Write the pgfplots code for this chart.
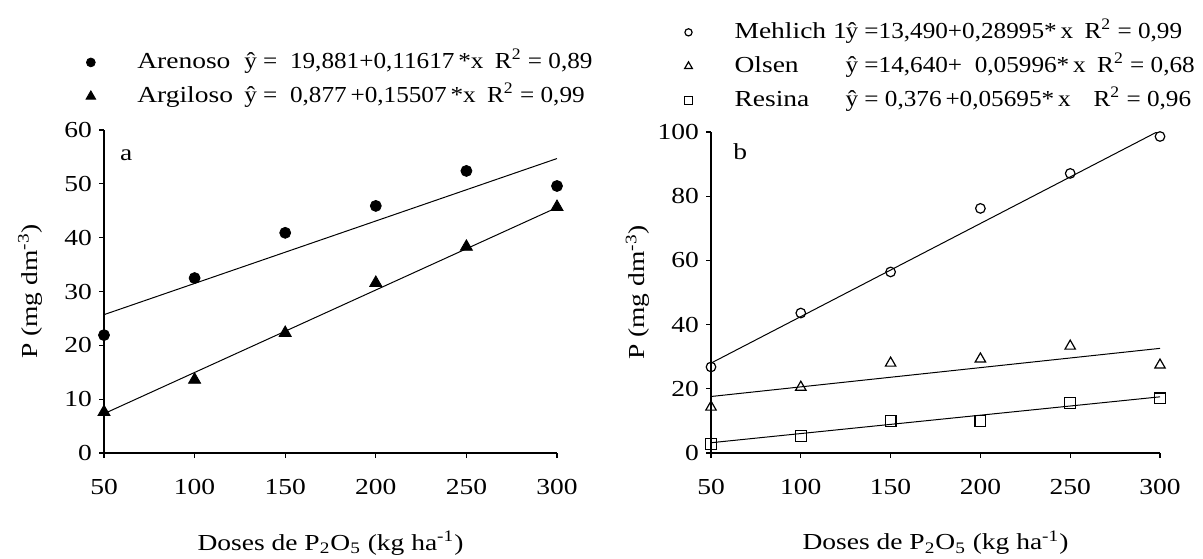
\documentclass[border=0pt]{standalone}
\usepackage{fontspec}
\setmainfont{Liberation Serif}[FakeStretch=1.2]
\newfontfamily\eqf{Liberation Serif}[FakeStretch=1.1]
\usepackage{pgfplots}
\pgfplotsset{compat=1.18}
\newcommand{\fs}{\fontsize{11.5}{13.8}\selectfont}
\pgfplotsset{
 myax/.style={
  scale only axis,
  axis x line=bottom, axis y line=left,
  axis line style={-, line width=0.7bp},
  tick align=outside, major tick length=2.5bp,
  tick style={line width=0.6bp, black},
  xmin=50, xmax=300, xtick={50,100,...,300},
  /pgf/number format/assume math mode=true,
  font=\fs,
  tick label style={font=\fs},
  xticklabel style={yshift=-7bp},
  label style={font=\fs},
  xlabel={Doses de P\textsubscript{2}O\textsubscript{5} (kg ha\textsuperscript{-1})},
  ylabel={P (mg dm\textsuperscript{-3})},
  xlabel style={at={(axis description cs:0.5,-0.279)}, anchor=center},
  ylabel style={at={(axis description cs:-0.163,0.5)}, anchor=center, rotate=0},
  legend style={draw=none, fill=none, inner sep=0pt, font=\fs,
    cells={anchor=west}, nodes={inner sep=0pt, text height=8.5bp, text depth=2.5bp},
    row sep=6bp},
  legend image code/.code={\draw[#1] plot coordinates {(0bp,0bp)};},
 }
}
\begin{document}
\begin{tikzpicture}[font=\fs]
\path[use as bounding box] (0,0) rectangle (601.5bp,-279.5bp);
% left panel
\begin{axis}[myax,
  at={(52bp,-226.5bp)}, anchor=south west,
  width=226.5bp, height=161.5bp,
  ymin=0, ymax=60, ytick={0,10,...,60},
  legend style={at={(axis description cs:-0.0406,1.2445)}, anchor=north west, column sep=20.8bp},
  legend image post style={/tikz/every mark/.append style={scale=0.8}},
]
\addplot[only marks, mark=*, mark size=2.75bp, black] coordinates {
(50,21.9) (100,32.5) (150,40.9) (200,45.9) (250,52.4) (300,49.6)};
\addlegendentry{\makebox[53.5bp][l]{Arenoso}{\eqf ŷ = \ 19,881+0,11617\,*x\enspace R\textsuperscript{2} = 0,89}}
\addplot[only marks, mark=triangle*, mark size=3.5bp, black] coordinates {
(50,7.6) (100,13.6) (150,22.3) (200,31.6) (250,38.3) (300,45.7)};
\addlegendentry{\makebox[53.5bp][l]{Argiloso}{\eqf ŷ = \ 0,877\,+0,15507\,*x\enspace R\textsuperscript{2} = 0,99}}
\addplot[black, line width=0.5bp, forget plot] coordinates {(50,25.7) (300,54.7)};
\addplot[black, line width=0.5bp, forget plot] coordinates {(50,7.3) (300,45.6)};
\node[anchor=center] at (axis description cs:0.049,0.923) {a};
\end{axis}
% right panel
\begin{axis}[myax,
  at={(355.5bp,-226.5bp)}, anchor=south west,
  width=224.5bp, height=160.5bp,
  ymin=0, ymax=100, ytick={0,20,...,100},
  legend style={at={(axis description cs:-0.060,1.346)}, anchor=north west, column sep=21bp},
  legend image post style={/tikz/every mark/.append style={scale=0.75}},
]
\addplot[only marks, mark=o, mark size=2.4bp, black, mark options={line width=0.6bp, fill=white}] coordinates {
(50,26.8) (100,43.6) (150,56.4) (200,76.2) (250,87.1) (300,98.6)};
\addlegendentry{\makebox[55.5bp][l]{Mehlich 1}{\eqf ŷ =13,490+0,28995*\,x\enspace R\textsuperscript{2} = 0,99}}
\addplot[only marks, mark=triangle, mark size=3bp, black, mark options={line width=0.6bp, fill=white}] coordinates {
(50,14.3) (100,20.5) (150,28.0) (200,29.3) (250,33.3) (300,27.4)};
\addlegendentry{\makebox[55.5bp][l]{Olsen}{\eqf ŷ =14,640+ \ 0,05996*\,x\enspace R\textsuperscript{2} = 0,68}}
\addplot[only marks, mark=square, mark size=2.7bp, black, mark options={line width=0.6bp, fill=white}] coordinates {
(50,2.8) (100,5.3) (150,10.0) (200,10.0) (250,15.6) (300,17.0)};
\addlegendentry{\makebox[55.5bp][l]{Resina}{\eqf ŷ = 0,376\,+0,05695*\,x\quad R\textsuperscript{2} = 0,96}}
\addplot[black, line width=0.5bp, forget plot] coordinates {(50,28.0) (300,100.5)};
\addplot[black, line width=0.5bp, forget plot] coordinates {(50,17.6) (300,32.6)};
\addplot[black, line width=0.5bp, forget plot] coordinates {(50,3.2) (300,17.5)};
\node[anchor=center] at (axis description cs:0.065,0.938) {b};
\end{axis}
\end{tikzpicture}
\end{document}
